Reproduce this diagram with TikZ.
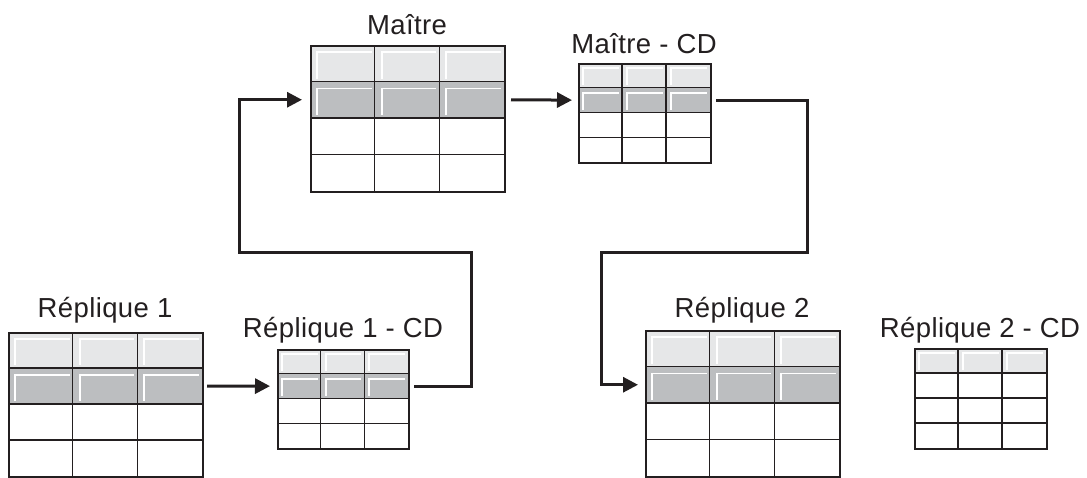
\documentclass[tikz,border=0pt]{standalone}
\usepackage{fontspec}
\setmainfont{Liberation Sans}
\usetikzlibrary{arrows.meta}
\definecolor{hdrlight}{HTML}{E6E7E8}
\definecolor{hdrdark}{HTML}{BCBEC0}
\definecolor{ink}{HTML}{231F20}
\tikzset{
  tbox/.style={draw=ink, line width=1.6pt, inner sep=0pt, fill=none},
  gridln/.style={draw=ink, line width=1.3pt},
  bevel/.style={draw=white, line width=1.8pt},
  conn/.style={draw=ink, line width=3pt, line join=miter},
  arr/.style={conn, -{Triangle[length=15pt,width=15pt]}},
  lbl/.style={font=\fontsize{27.5}{30}\selectfont\addfontfeature{LetterSpace=1.5}, text=ink, anchor=base, inner sep=0pt},
}
% name, left, top, width, height, highlighted rows, bevel inset
\newcommand{\dbtab}[7]{%
  \pgfmathsetmacro\cw{#4/3}%
  \pgfmathsetmacro\rh{#5/4}%
  \fill[hdrlight] (#2,#3) rectangle ++(#4,\rh);
  \ifnum#6>1 \fill[hdrdark] (#2,{#3+\rh}) rectangle ++(#4,\rh);\fi
  \foreach \r in {1,...,#6}{%
    \foreach \c in {0,1,2}{%
      \draw[bevel] ({#2+\c*\cw+#7},{#3+\r*\rh-3}) -- ({#2+\c*\cw+#7},{#3+(\r-1)*\rh+#7}) -- ({#2+(\c+1)*\cw-3},{#3+(\r-1)*\rh+#7});
    }%
  }%
  \foreach \c in {1,2}{\draw[gridln] ({#2+\c*\cw},#3) -- ++(0,#5);}
  \foreach \r in {1,2,3}{\draw[gridln] (#2,{#3+\r*\rh}) -- ++(#4,0);}
  \node[tbox, minimum width=#4pt, minimum height=#5pt, anchor=north west] (#1) at (#2,#3) {};
  \coordinate (#1-w) at (#2,{#3+1.5*\rh});
  \coordinate (#1-e) at ({#2+#4},{#3+1.5*\rh});
}
\begin{document}
\begin{tikzpicture}[x=1pt,y=-1pt]
\useasboundingbox (0,0) rectangle (1087,477);
% tables
\dbtab{ma}{310}{45}{194}{146}{2}{7}
\dbtab{mcd}{578}{63}{132}{99}{2}{5}
\dbtab{ra}{8}{332}{194}{144}{2}{7}
\dbtab{racd}{277}{349}{131}{99}{2}{5}
\dbtab{rb}{645}{330}{194}{146}{2}{7}
\dbtab{rbcd}{914}{348}{132}{100}{1}{5}
% labels
\node[lbl] (lma) at (407,34) {Maître};
\node[lbl] (lmcd) at (644,53) {Maître - CD};
\node[lbl] (lra) at (105,317) {Réplique 1};
\node[lbl] (lracd) at (343,337) {Réplique 1 - CD};
\node[lbl] (lrb) at (742,317) {Réplique 2};
\node[lbl] (lrbcd) at (980,337) {Réplique 2 - CD};
% connector corners
\coordinate (k1) at (471,252);
\coordinate (k2) at (239,252);
\coordinate (k3) at (807,252);
\coordinate (k4) at (601,252);
% connectors
\draw[arr] ([xshift=5pt]ra-e) -- ([xshift=-7pt]racd-w);
\draw[arr] ([xshift=6pt]racd-e) -| (k1) -- (k2) |- ([xshift=-8pt]ma-w);
\draw[arr] ([xshift=7pt]ma-e) -- ([xshift=-6pt]mcd-w);
\draw[arr] ([xshift=6pt]mcd-e) -| (k3) -- (k4) |- ([xshift=-7pt]rb-w);
\end{tikzpicture}
\end{document}
